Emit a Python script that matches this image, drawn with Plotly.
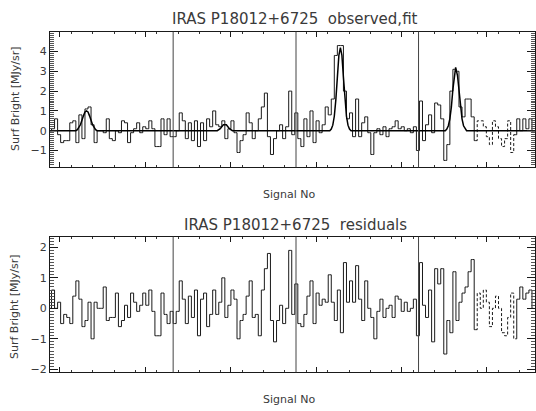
import plotly.graph_objects as go

# ---------------- data ----------------
signal_no = list(range(160))

observed = [
    0.0, 0.1, 0.6, -0.2, -0.6, -0.5, -0.5, 0.4, 0.5, -0.6,
    0.8, -0.4, 1.1, 1.2, 0.3, -0.6, 0.0, 0.0, -0.1, 0.6,
    -0.4, -0.5, 0.0, -0.1, 0.5, 0.4, -0.6, -0.1, 0.1, 0.4,
    -0.1, 0.2, 0.1, 0.5, 0.1, -0.8, -0.8, 0.6, -0.2, 0.6,
    -0.3, -0.3, 0.0, 0.9, 0.5, -0.4, 0.4, -0.5, 0.5, -0.8,
    0.4, -0.5, 0.6, 0.2, 1.0, 0.3, 0.2, 0.5, -0.4, 0.1,
    0.5, -0.1, -1.1, -0.5, -0.2, 0.9, 0.4, -0.4, 0.0, 0.6,
    1.2, 1.9, -0.3, -1.2, -0.4, 0.0, 0.3, -0.4, 0.2, 2.0,
    -0.2, 0.9, -0.4, -0.8, 0.6, -0.3, 1.0, -0.6, 0.5, -0.1,
    0.3, 1.2, 0.8, 1.6, 3.8, 4.3, 4.3, 2.0, 0.6, 0.9,
    -0.3, 1.6, -0.3, 0.4, 0.7, -0.1, -1.2, -0.1, 0.1, -0.2,
    0.2, -0.3, 0.1, 0.2, 0.5, 0.1, 0.2, 0.0, 0.1, -0.1,
    0.2, -1.0, 1.5, -0.5, 0.3, 0.8, -0.1, 1.4, 1.3, 0.6,
    -1.5, -0.7, 2.0, 3.1, 3.0, 1.2, 0.7, 1.6, 1.6, 0.7,
    -0.5, 0.5, 0.5, 0.2, -0.3, -0.7, 0.5, 0.2, -0.4, -0.8,
    -0.4, 0.5, -1.1, -0.2, 0.6, 0.0, 0.6, 0.1, 0.6, 0.0,
]

residuals = [
    0.0, 0.6, 0.0, 0.2, -0.5, -0.2, -0.3, -0.5, 0.4, 0.9,
    0.3, -0.6, -0.4, 0.2, -1.0, 0.2, 0.0, 0.0, 0.7, -0.4,
    -0.3, -0.3, 0.5, -0.6, -0.4, 0.1, -0.3, 0.5, 0.2, -0.1,
    0.1, 0.5, 0.1, 0.6, -0.1, -0.9, -0.9, 0.5, -0.2, -0.5,
    -0.1, -0.5, -0.1, 0.9, 0.3, -0.5, 0.4, -0.3, 0.6, -0.9,
    0.3, 0.5, -0.6, -0.2, 0.6, -0.2, 0.2, 1.0, -0.3, 0.1,
    0.6, 0.3, -1.0, -0.4, -0.2, 0.4, 0.9, -0.3, -0.2, -0.9,
    0.6, 1.3, 1.8, -0.4, -1.1, -0.4, 0.1, -0.5, 0.0, 1.9,
    -0.2, 0.8, -0.5, -0.6, -0.2, 0.4, 0.9, -0.5, 0.5, 0.1,
    0.3, 0.2, 1.1, 0.2, -0.4, 0.6, -0.8, 1.5, 0.2, 0.9,
    0.2, 1.4, 0.3, -0.4, 0.9, 0.0, -0.3, -1.0, -0.1, 0.3,
    -0.3, 0.0, 0.1, -0.3, 0.4, 0.3, -0.1, 0.2, -0.1, 0.0,
    0.3, -0.9, 1.5, 0.1, -0.3, 0.6, -1.1, 1.3, 0.8, 1.3,
    -1.5, -0.4, -0.8, 1.2, -0.4, 0.2, 0.5, 0.7, 1.2, 1.6,
    -0.7, 0.5, 0.0, 0.6, 0.2, -0.6, 0.0, 0.4, 0.0, -0.8,
    -0.9, -0.3, 0.5, -1.0, 0.3, 0.7, 0.3, 0.5, 0.6, 0.0,
]

# fitted model curve, read off as (signal no, value) pairs
fit_x = [0, 8.5, 9, 10, 11, 11.5, 12, 12.5, 13, 14, 15, 15.5,
         55, 56, 57, 58, 59, 60,
         92, 92.5, 93, 93.5, 94, 94.5, 95, 95.5, 96, 96.5, 97, 97.5, 98, 98.5, 99,
         130, 130.5, 131, 131.5, 132, 132.5, 133, 133.4, 134, 134.5, 135, 135.5, 136, 136.5, 137,
         159.5]
fit_y = [0, 0, 0.05, 0.3, 0.75, 0.95, 1.0, 0.95, 0.75, 0.3, 0.05, 0,
         0, 0.1, 0.3, 0.3, 0.1, 0,
         0, 0.08, 0.28, 0.73, 1.56, 2.7, 3.8, 4.2, 3.8, 2.7, 1.56, 0.73, 0.28, 0.08, 0,
         0, 0.08, 0.25, 0.6, 1.2, 2.1, 2.9, 3.2, 2.8, 2.0, 1.2, 0.6, 0.25, 0.08, 0,
         0]

top_ticks = [-1, 0, 1, 2, 3, 4]
bottom_ticks = [-2, -1, 0, 1, 2]

scan_bounds = [40.5, 80.9, 121.2]   # boundaries between scans
faint_span = (140, 153)             # stretch drawn with a broken line

# ---------------- figure ----------------
W, H = 536, 411
LINE = "#1a1a1a"
TXT = "#3a3a3a"
FONT = "DejaVu Sans"

fig = go.Figure()


def add_steps(vals, xa, ya):
    a, b = faint_span
    parts = [(0, a, "solid"), (a, b, "3px,2px"), (b, len(vals) - 1, "solid")]
    for s, e, d in parts:
        fig.add_trace(go.Scatter(
            x=signal_no[s:e + 1], y=vals[s:e + 1], mode="lines",
            line=dict(shape="hvh", color=LINE, width=1, dash=d),
            xaxis=xa, yaxis=ya, showlegend=False, hoverinfo="skip"))


add_steps(observed, "x", "y")
fig.add_trace(go.Scatter(x=fit_x, y=fit_y, mode="lines",
                         line=dict(color="#000", width=1.5),
                         xaxis="x", yaxis="y", showlegend=False, hoverinfo="skip"))
add_steps(residuals, "x2", "y2")

xdom = [50 / W, 535 / W]
top_dom = [1 - 169 / H, 1 - 32 / H]
bot_dom = [1 - 376 / H, 1 - 239 / H]

xcommon = dict(range=[0, 159.5], showline=True, linecolor=LINE, linewidth=1.3,
               mirror="ticks", ticks="inside", ticklen=5, tickcolor=LINE,
               tick0=3.2, dtick=28.1, showticklabels=False, showgrid=False,
               zeroline=False, domain=xdom,
               minor=dict(ticks="inside", ticklen=2, dtick=7.025, tickcolor="#333"))
ycommon = dict(showline=True, linecolor=LINE, linewidth=1.3, mirror="ticks",
               ticks="inside", ticklen=8, tickcolor=LINE, tickwidth=1,
               showgrid=False, zeroline=False, tickmode="array",
               tickfont=dict(family=FONT, size=11, color=TXT),
               minor=dict(ticks="inside", ticklen=4, dtick=0.1, tick0=0,
                          tickcolor="#555", tickwidth=1))

fig.update_layout(
    width=W, height=H,
    margin=dict(l=0, r=0, t=0, b=0),
    paper_bgcolor="white", plot_bgcolor="white",
    xaxis=dict(**xcommon, anchor="y"),
    yaxis=dict(**ycommon, range=[-1.85, 5.0], tickvals=top_ticks,
               domain=top_dom, anchor="x"),
    xaxis2=dict(**xcommon, anchor="y2"),
    yaxis2=dict(**ycommon, range=[-2.1, 2.35], tickvals=bottom_ticks,
                domain=bot_dom, anchor="x2"),
)

for xa, ya in (("x", "y"), ("x2", "y2")):
    for b in scan_bounds:
        fig.add_shape(type="line", xref=xa, yref=f"{ya} domain",
                      x0=b, x1=b, y0=0, y1=1,
                      line=dict(color="#444", width=1))


def note(text, px, py, size, angle=0):
    fig.add_annotation(text=text, x=px / W, y=1 - py / H, xref="paper", yref="paper",
                       showarrow=False, textangle=angle,
                       font=dict(family=FONT, size=size, color=TXT),
                       xanchor="center", yanchor="middle")


note("IRAS P18012+6725\u00a0\u00a0observed,fit", 295, 19, 15)
note("IRAS P18012+6725\u00a0\u00a0residuals", 295, 227, 15)
note("Signal No", 289, 196, 11)
note("Signal No", 289, 403, 11)
note("Surf Bright [MJy/sr]", 15, 100, 11, -90)
note("Surf Bright [MJy/sr]", 15, 310, 11, -90)

fig.write_html("out.html")
